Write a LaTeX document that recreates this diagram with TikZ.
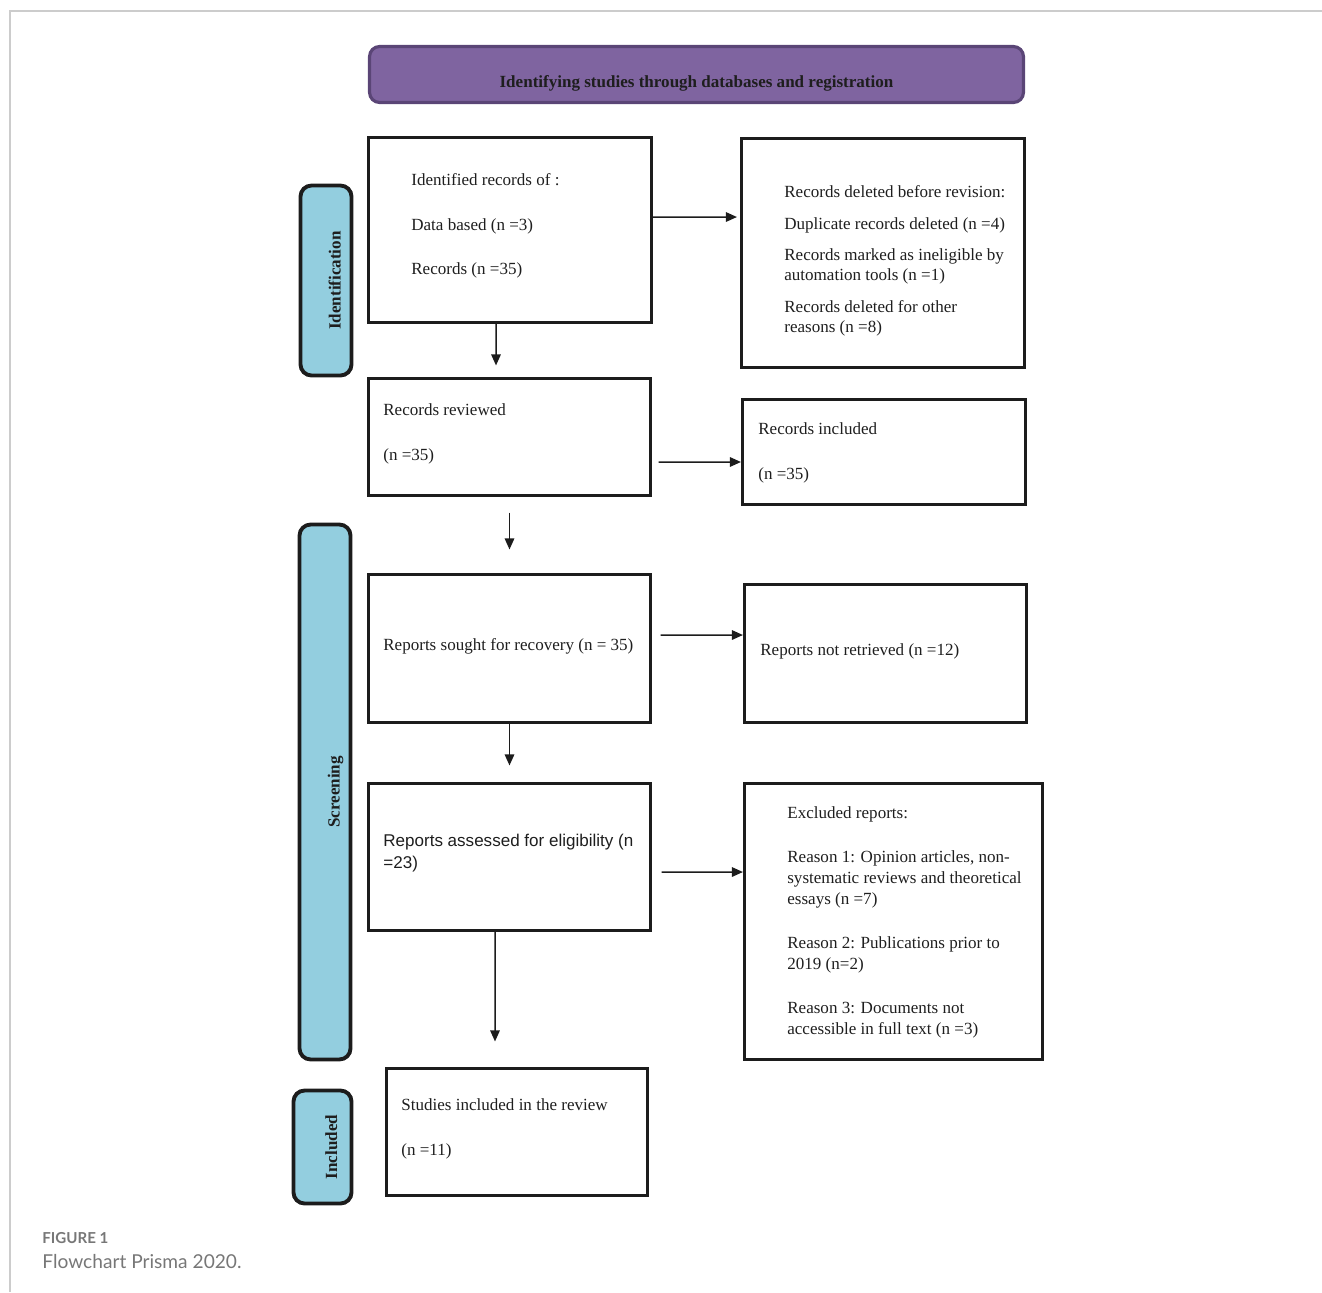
\documentclass[tikz,border=0pt]{standalone}
\usepackage{fontspec}
\setmainfont{Liberation Serif}
\newfontfamily\arialfont{Liberation Sans}
\newfontfamily\capfont{Lato}
\usetikzlibrary{arrows.meta}
\definecolor{boxline}{HTML}{1C1C1C}
\definecolor{txtcol}{HTML}{1E1E1E}
\definecolor{headfill}{HTML}{7F64A0}
\definecolor{headline}{HTML}{5A4576}
\definecolor{phasefill}{HTML}{93CEDF}
\definecolor{framegray}{HTML}{CCCCCC}
\definecolor{capgray}{HTML}{777777}

\begin{document}
\begin{tikzpicture}[x=0.02cm, y=-0.02cm,
    box/.style={draw=boxline, line width=1.8pt, inner sep=0pt},
    txt/.style={anchor=west, align=left, inner sep=0pt, text=txtcol, font=\fontsize{9.7}{11.6}\selectfont},
    phase/.style={draw=boxline, fill=phasefill, line width=2.2pt, rounded corners=0.22cm, rotate=90, inner sep=0pt,
        text height=0.58cm, text depth=0cm, text=txtcol, font=\bfseries\fontsize{9.7}{11.6}\selectfont},
    arr/.style={-{Triangle[length=2.2mm,width=1.9mm]}, line width=0.85pt, draw=boxline}]
    \useasboundingbox (0,0) rectangle (1322,1292);
    \draw[framegray, line width=1.2pt] (10,1292) -- (10,11) -- (1322,11);

    % header
    \node[draw=headline, fill=headfill, line width=1.8pt, rounded corners=0.2cm, minimum width=13.08cm, minimum height=1.12cm,
        text height=0.5cm, text depth=0cm, text=txtcol, font=\bfseries\fontsize{9.7}{11.6}\selectfont] (head) at (696.5,74.5)
        {Identifying studies through databases and registration};

    % phases
    \node[phase, minimum width=3.8cm, minimum height=1.02cm] (phident) at (326,280.5) {Identification};
    \node[phase, minimum width=10.7cm, minimum height=1.02cm] (phscreen) at (325,792) {Screening};
    \node[phase, minimum width=2.26cm, minimum height=1.16cm] (phincl) at (322.5,1147) {Included};

    % boxes
    \node[box, minimum width=5.66cm, minimum height=3.7cm] (ident) at (510,230) {};
    \node[box, minimum width=5.66cm, minimum height=4.58cm] (deleted) at (883,253) {};
    \node[box, minimum width=5.64cm, minimum height=2.34cm] (reviewed) at (509.5,437) {};
    \node[box, minimum width=5.66cm, minimum height=2.1cm] (incl) at (884,452) {};
    \node[box, minimum width=5.64cm, minimum height=2.96cm] (sought) at (509.5,648.5) {};
    \node[box, minimum width=5.64cm, minimum height=2.76cm] (notret) at (885.5,653.5) {};
    \node[box, minimum width=5.64cm, minimum height=2.94cm] (assess) at (509.5,857) {};
    \node[box, minimum width=5.96cm, minimum height=5.52cm] (excl) at (893.5,921.5) {};
    \node[box, minimum width=5.22cm, minimum height=2.54cm] (studies) at (517,1132) {};

    % texts
    \node[txt] (identtxt) at (411,226) {Identified records of :\\[13.8pt]Data based (n =3)\\[13.8pt]Records (n =35)};
    \node[txt] (deletedtxt) at (784,261) {Records deleted before revision:\\[6.4pt]Duplicate records deleted (n =4)\\[6.2pt]Records marked as ineligible by\\automation tools (n =1)\\[6.4pt]Records deleted for other\\reasons (n =8)};
    \node[txt] (reviewedtxt) at (383,434) {Records reviewed\\[13.8pt](n =35)};
    \node[txt] (incltxt) at (758,453) {Records included\\[13.8pt](n =35)};
    \node[txt] (soughttxt) at (383,646.5) {Reports sought for recovery (n = 35)};
    \node[txt] (notrettxt) at (760,651.5) {Reports not retrieved (n =12)};
    \node[txt, font=\arialfont\fontsize{9.7}{12.5}\selectfont] (assesstxt) at (383,853) {Reports assessed for eligibility (n\\=23)};
    \node[txt, font=\fontsize{9.7}{12}\selectfont] (excltxt) at (787,922.5) {Excluded reports:\\[13pt]Reason 1: Opinion articles, non-\\systematic reviews and theoretical\\essays (n =7)\\[13pt]Reason 2: Publications prior to\\2019 (n=2)\\[13pt]Reason 3: Documents not\\accessible in full text (n =3)};
    \node[txt] (studiestxt) at (401,1129) {Studies included in the review\\[13.8pt](n =11)};

    % arrows
    \draw[arr] ([yshift=0.26cm]ident.east) -- ([xshift=-0.06cm,yshift=0.72cm]deleted.west);
    \draw[arr] ([xshift=-0.28cm]ident.south) -- ([xshift=-0.27cm,yshift=0.23cm]reviewed.north);
    \draw[arr] ([xshift=0.13cm,yshift=-0.5cm]reviewed.east) -- ([yshift=-0.2cm]incl.west);
    \draw[arr] ([yshift=-0.31cm]reviewed.south) -- ([yshift=0.47cm]sought.north);
    \draw[arr] ([xshift=0.17cm,yshift=0.27cm]sought.east) -- ([yshift=0.37cm]notret.west);
    \draw[arr] (sought.south) -- ([yshift=0.33cm]assess.north);
    \draw[arr] ([xshift=0.19cm,yshift=-0.3cm]assess.east) -- ([yshift=0.99cm]excl.west);
    \draw[arr] ([xshift=-0.29cm]assess.south) -- ([xshift=-0.44cm,yshift=0.51cm]studies.north);

    % caption
    \node[anchor=base west, inner sep=0pt, text=capgray, font=\capfont\bfseries\fontsize{8.6}{10}\selectfont] (figlabel) at (42,1243) {FIGURE 1};
    \node[anchor=base west, inner sep=0pt, text=capgray, font=\capfont\fontsize{10.9}{13}\selectfont] (figcaption) at (42,1268) {Flowchart Prisma 2020.};
\end{tikzpicture}
\end{document}
